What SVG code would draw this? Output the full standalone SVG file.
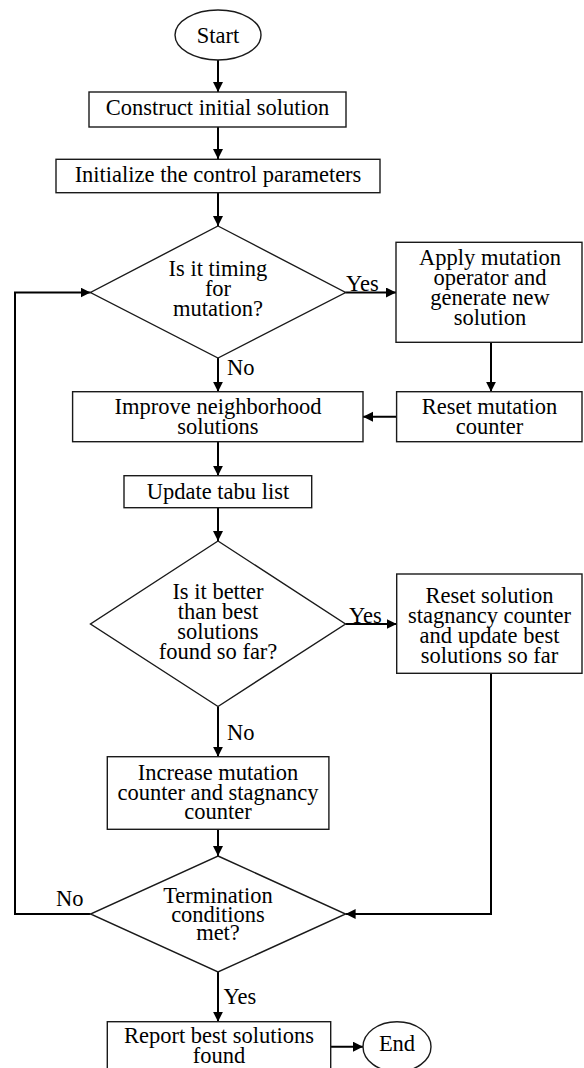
<svg xmlns="http://www.w3.org/2000/svg" width="584" height="1068" viewBox="0 0 584 1068">
<style>
text{font-family:'Liberation Serif','Times New Roman',serif;font-size:22.5px;fill:#000;text-anchor:middle}
.lbl{text-anchor:start}
.shape{fill:#fff;stroke:#1a1a1a;stroke-width:1.4}
.conn{fill:none;stroke:#000;stroke-width:2}
</style>
<defs>
<marker id="arr" markerUnits="userSpaceOnUse" markerWidth="11" markerHeight="11" refX="10" refY="5" orient="auto">
<path d="M0,0 L10,5 L0,10 z" fill="#000"/>
</marker>
</defs>
<rect width="584" height="1068" fill="#fff"/>
<g id="connectors">
<path class="conn" d="M218,60 V92" marker-end="url(#arr)"/>
<path class="conn" d="M218,127 V159" marker-end="url(#arr)"/>
<path class="conn" d="M218,193 V226" marker-end="url(#arr)"/>
<path class="conn" d="M345.5,292.5 H396" marker-end="url(#arr)"/>
<path class="conn" d="M218,358 V391.7" marker-end="url(#arr)"/>
<path class="conn" d="M491,342 V391.7" marker-end="url(#arr)"/>
<path class="conn" d="M396.6,416.7 H363" marker-end="url(#arr)"/>
<path class="conn" d="M218,441.7 V475.7" marker-end="url(#arr)"/>
<path class="conn" d="M218,507.7 V541" marker-end="url(#arr)"/>
<path class="conn" d="M345.5,624 H396.7" marker-end="url(#arr)"/>
<path class="conn" d="M218,706.5 V756.7" marker-end="url(#arr)"/>
<path class="conn" d="M218,829.3 V856" marker-end="url(#arr)"/>
<path class="conn" d="M90.5,914 H15 V292.5 H90.5" marker-end="url(#arr)"/>
<path class="conn" d="M491,673.3 V914 H345.6" marker-end="url(#arr)"/>
<path class="conn" d="M218,972 V1021.7" marker-end="url(#arr)"/>
<path class="conn" d="M330.7,1046.7 H363" marker-end="url(#arr)"/>
<text class="lbl" x="346" y="291">Yes</text>
<text class="lbl" x="227" y="375">No</text>
<text class="lbl" x="349" y="622.7">Yes</text>
<text class="lbl" x="227" y="740">No</text>
<text class="lbl" x="56" y="905.5">No</text>
<text class="lbl" x="223.5" y="1004">Yes</text>
</g>
<g id="start">
<ellipse class="shape" cx="218" cy="35" rx="43" ry="25"/>
<text x="218" y="43">Start</text>
</g>
<g id="construct">
<rect class="shape" x="89" y="92" width="257" height="35"/>
<text x="217.5" y="115">Construct initial solution</text>
</g>
<g id="init">
<rect class="shape" x="56" y="159.3" width="324" height="33.4"/>
<text x="218" y="181.7">Initialize the control parameters</text>
</g>
<g id="timing">
<polygon class="shape" points="218,226 345.6,292.5 218,358 90.5,292.5"/>
<text x="218" y="276">Is it timing</text>
<text x="218" y="296">for</text>
<text x="218" y="316">mutation?</text>
</g>
<g id="apply">
<rect class="shape" x="396" y="242.3" width="186" height="100"/>
<text x="490" y="265">Apply mutation</text>
<text x="490" y="285">operator and</text>
<text x="490" y="305">generate new</text>
<text x="490" y="325">solution</text>
</g>
<g id="improve">
<rect class="shape" x="72.6" y="391.7" width="290.4" height="50"/>
<text x="218" y="413.5">Improve neighborhood</text>
<text x="218" y="433.5">solutions</text>
</g>
<g id="resetmut">
<rect class="shape" x="396.6" y="391.7" width="185.4" height="50"/>
<text x="489.5" y="413.5">Reset mutation</text>
<text x="489.5" y="433.5">counter</text>
</g>
<g id="tabu">
<rect class="shape" x="124" y="475.7" width="187.7" height="32"/>
<text x="218" y="498.5">Update tabu list</text>
</g>
<g id="better">
<polygon class="shape" points="218,541 345.5,624 218,706.5 90.5,624"/>
<text x="218" y="599.3">Is it better</text>
<text x="218" y="619.3">than best</text>
<text x="218" y="639.3">solutions</text>
<text x="218" y="659.3">found so far?</text>
</g>
<g id="resetsol">
<rect class="shape" x="396.7" y="574" width="185.3" height="99.3"/>
<text x="489.5" y="602.7">Reset solution</text>
<text x="489.5" y="622.7">stagnancy counter</text>
<text x="489.5" y="642.7">and update best</text>
<text x="489.5" y="662.7">solutions so far</text>
</g>
<g id="increase">
<rect class="shape" x="107.3" y="756.7" width="221.6" height="72.6"/>
<text x="218" y="779.5">Increase mutation</text>
<text x="218" y="799.5">counter and stagnancy</text>
<text x="218" y="819">counter</text>
</g>
<g id="termination">
<polygon class="shape" points="218,856 345.6,914 218,972 90.5,914"/>
<text x="218" y="903">Termination</text>
<text x="218" y="922">conditions</text>
<text x="218" y="940">met?</text>
</g>
<g id="report">
<rect class="shape" x="107.3" y="1021.7" width="223.4" height="60"/>
<text x="219" y="1043.3">Report best solutions</text>
<text x="219" y="1063">found</text>
</g>
<g id="end">
<ellipse class="shape" cx="397" cy="1046.7" rx="34" ry="25"/>
<text x="397" y="1051">End</text>
</g>
</svg>
